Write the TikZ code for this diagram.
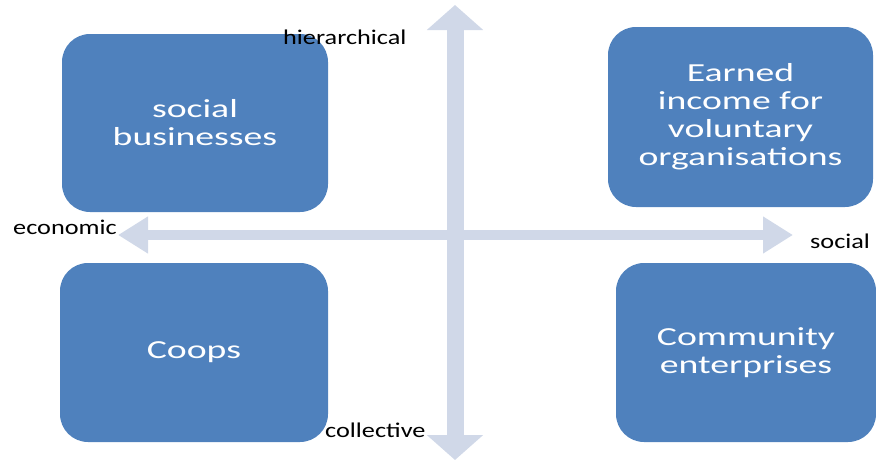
\documentclass[tikz,border=0pt]{standalone}
\usepackage{fontspec}
\usepackage{tikz}
\usetikzlibrary{arrows.meta,positioning}
\newfontfamily\quadfont{Carlito}[FakeStretch=1.45]
\newfontfamily\axisfont{Carlito}[FakeStretch=1.25]
\definecolor{quadBlue}{HTML}{4F81BD}
\definecolor{quadAxis}{HTML}{D0D8E8}

\begin{document}
\begin{tikzpicture}[x=1pt,y=-1pt,
    quad/.style={fill=quadBlue,draw=none,rounded corners=28pt,text=white,
                 align=center,inner sep=0pt,
                 font=\quadfont\fontsize{26}{28}\selectfont},
    axislabel/.style={anchor=base west,inner sep=0pt,
                 font=\axisfont\fontsize{21}{23}\selectfont},
    vaxis/.style={draw=quadAxis,line width=17pt,
                 {Triangle[width=55pt,length=25pt]}-{Triangle[width=55pt,length=25pt]}},
    haxis/.style={draw=quadAxis,line width=10pt,
                 {Triangle[width=35pt,length=30pt]}-{Triangle[width=35pt,length=30pt]}}]
  \useasboundingbox (0,0) rectangle (876,463);

  % the two axes
  \coordinate (up)    at (455,5);
  \coordinate (down)  at (455,460);
  \coordinate (left)  at (118,235);
  \coordinate (right) at (793,235);
  \draw[vaxis] (down) -- (up);
  \draw[haxis] (left) -- (right);

  % quadrants
  \node[quad,minimum width=266pt,minimum height=178pt] (socbiz) at (195,123)
    {social\\businesses};
  \node[quad,minimum width=265pt,minimum height=180pt] (earned) at (740.5,117)
    {Earned\\income for\\voluntary\\organisations};
  \node[quad,minimum width=268pt,minimum height=179pt] (coops) at (194,352.5)
    {Coops};
  \node[quad,minimum width=260pt,minimum height=179pt] (community) at (746,352.5)
    {Community\\enterprises};

  % axis ends
  \node[axislabel] (hier)   at (283,45)  {hierarchical};
  \node[axislabel] (coll)   at (325,437) {collective};
  \node[axislabel] (econ)   at (13,234)  {economic};
  \node[axislabel] (soc)    at (810,248) {social};
\end{tikzpicture}
\end{document}
